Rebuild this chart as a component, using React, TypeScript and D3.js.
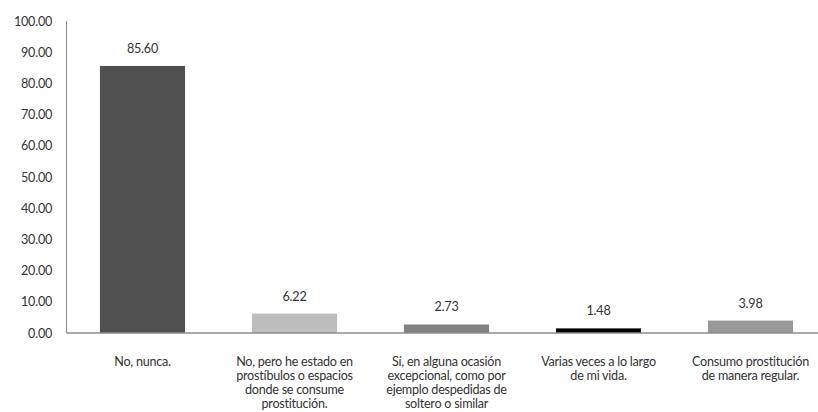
import React from "react";
import * as d3 from "d3";

const categories: string[][] = [
  ["No, nunca."],
  ["No, pero he estado en", "prostíbulos o espacios", "donde se consume", "prostitución."],
  ["Sí, en alguna ocasión", "excepcional, como por", "ejemplo despedidas de", "soltero o similar"],
  ["Varias veces a lo largo", "de mi vida."],
  ["Consumo prostitución", "de manera regular."],
];
const values: number[] = [85.6, 6.22, 2.73, 1.48, 3.98];
const barColors: string[] = ["#505050", "#bdbdbd", "#818181", "#000000", "#999999"];
const yTicks: number[] = [0, 10, 20, 30, 40, 50, 60, 70, 80, 90, 100];

export default function App() {
  const W = 818;
  const H = 412;
  const x0 = 66.5;
  const bandW = 152;
  const x = d3
    .scaleBand<number>()
    .domain(values.map((_, i) => i))
    .range([x0, x0 + bandW * values.length])
    .paddingInner(0.44)
    .paddingOuter(0.22);
  const y = d3.scaleLinear().domain([0, 100]).range([333, 21]);
  const font = "Lato, 'Open Sans', sans-serif";
  const textColor = "#333333";
  const fmt = d3.format(".2f");
  const fs = 12.6;
  const ls = -0.25;
  return (
    <svg
      width={W}
      height={H}
      style={{ position: "absolute", left: 0, top: 0, background: "#fff" }}
      fontFamily={font}
    >
      {values.map((v, i) => (
        <g key={i}>
          <rect
            x={x(i)!}
            y={y(v)}
            width={x.bandwidth()}
            height={y(0) - y(v)}
            fill={barColors[i]}
          />
          <text
            x={x(i)! + x.bandwidth() / 2}
            y={y(v) - 13}
            textAnchor="middle"
            fontSize={fs}
            letterSpacing={ls}
            fill={textColor}
          >
            {fmt(v)}
          </text>
          <text
            x={x(i)! + x.bandwidth() / 2}
            y={366}
            textAnchor="middle"
            fontSize={fs}
            letterSpacing={ls}
            fill={textColor}
          >
            {categories[i].map((line, j) => (
              <tspan key={j} x={x(i)! + x.bandwidth() / 2} dy={j === 0 ? 0 : 14}>
                {line}
              </tspan>
            ))}
          </text>
        </g>
      ))}
      <line x1={x0} x2={W} y1={y(0)} y2={y(0)} stroke="#8c8c8c" strokeWidth={1.5} />
      <line x1={x0} x2={x0} y1={y(100)} y2={y(0)} stroke="#8c8c8c" strokeWidth={1} />
      {yTicks.map((t) => (
        <text
          key={t}
          x={52}
          y={y(t) + 4.5}
          textAnchor="end"
          fontSize={fs}
          letterSpacing={ls}
          fill={textColor}
        >
          {fmt(t)}
        </text>
      ))}
    </svg>
  );
}
